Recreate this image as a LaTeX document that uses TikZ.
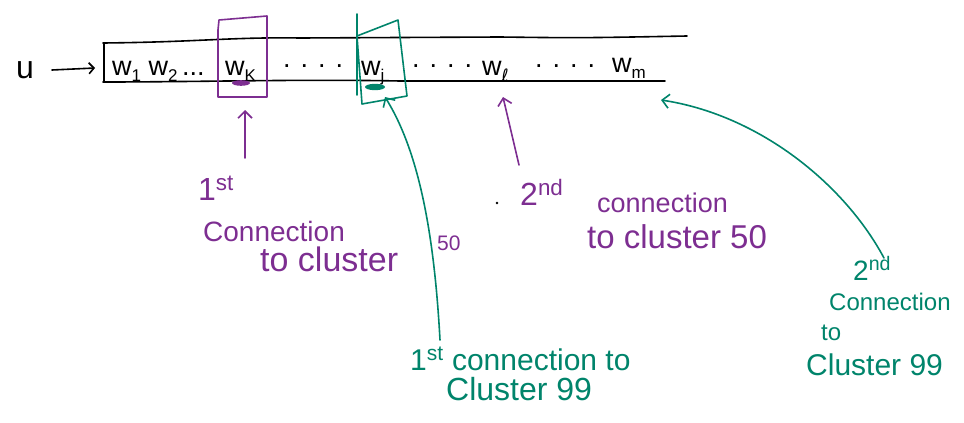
\documentclass[tikz,border=0pt]{standalone}
\usepackage{fontspec}
\setmainfont{Liberation Sans}
\newfontfamily\dejavu{DejaVu Sans}
\usetikzlibrary{arrows.meta}
\definecolor{hpurple}{HTML}{7D2E91}
\definecolor{hgreen}{HTML}{00846B}
\newcommand{\fs}[1]{\fontsize{#1}{#1}\selectfont}
\newcommand{\sub}[1]{\raisebox{-0.25em}{\fs{17}#1}}
\tikzset{
  ink/.style={line width=1.6pt, line cap=round, line join=round},
  pen/.style={ink, draw=black},
  ppen/.style={ink, draw=hpurple},
  gpen/.style={ink, draw=hgreen},
  barb/.style={-{Straight Barb[length=7pt,width=14pt,line width=1.6pt]}},
  word/.style={font=\fs{27}, inner sep=0pt, anchor=base west},
  ptxt/.style={text=hpurple, inner sep=0pt, anchor=base west},
  gtxt/.style={text=hgreen, inner sep=0pt, anchor=base west},
}
\begin{document}
\begin{tikzpicture}[x=1pt,y=-1pt]
\useasboundingbox (0,0) rectangle (964,423);
% strip
\coordinate (tl) at (103,43);
\coordinate (bl) at (103,82);
\coordinate (tr) at (687,36);
\coordinate (br) at (665,81);
\draw[pen] (tl) .. controls (200,42) and (230,37) .. (300,38) -- (500,37) .. controls (580,38) .. (tr);
\draw[pen] (bl) .. controls (200,82) and (300,79) .. (400,81) -- (br);
\draw[pen] (104,44) -- (104,81);
% input
\node[font=\fs{32}, inner sep=0pt, anchor=base west] (u) at (16,78) {u};
\coordinate (ua) at (52,70);
\coordinate (strip) at (95,68);
\draw[pen, -{Straight Barb[length=5pt,width=11pt,line width=1.6pt]}] (ua) -- (strip);
% words
\node[word] (w12) at (112,75) {w\sub{1} w\sub{2}\,...};
\node[word] (wk) at (225,75) {w\sub{K}};
\node[word] (d1) at (283,67) {. . . .};
\node[word] (wj) at (361,75) {w\sub{j}};
\node[word] (d2) at (412,67) {. . . .};
\node[word] (wl) at (482,75) {w\sub{\dejavu ℓ}};
\node[word] (d3) at (535,67) {. . . .};
\node[word] (wm) at (612,72) {w\sub{m}};
% purple box around w_k
\draw[ppen] (218,30) -- (218,97) -- (267,97) -- (267,16) -- (219,20) -- (218,30);
\fill[hpurple] (241,83) ellipse (9pt and 2.8pt);
% green box around w_j
\draw[gpen] (357,14) -- (357,95);
\draw[gpen] (357,36) -- (398,20) -- (407,96) -- (362,104) -- (357,36);
\fill[hgreen] (375,87) ellipse (10pt and 3.2pt);
% purple texts
\node[ptxt, font=\fs{32}] (p1) at (198,200) {1\textsuperscript{st}};
\node[ptxt, font=\fs{28}] (p2) at (203,241) {Connection};
\node[ptxt, font=\fs{34}] (p3) at (260,271) {to cluster};
\node[ptxt, font=\fs{21}] (p50) at (437,250) {50};
\node[ptxt, font=\fs{32}] (q1) at (520,205) {2\textsuperscript{nd}};
\node[ptxt, font=\fs{27}] (q2) at (597,212) {connection};
\node[ptxt, font=\fs{33}] (q3) at (587,248) {to cluster 50};
\fill (497,203) circle (1.3pt);
% purple arrows
\coordinate (pa1) at (245,158);
\coordinate (pa1h) at (245,110);
\draw[ppen, barb] (pa1) -- (pa1h);
\coordinate (pa2) at (519,165);
\coordinate (pa2h) at (503,97);
\draw[ppen, barb] (pa2) -- (pa2h);
% green texts
\node[gtxt, font=\fs{30}] (g1) at (410,370) {1\textsuperscript{st} connection to};
\node[gtxt, font=\fs{32}] (g2) at (446,400) {Cluster 99};
\node[gtxt, font=\fs{28}] (h1) at (853,280) {2\textsuperscript{nd}};
\node[gtxt, font=\fs{24}] (h2) at (829,310) {Connection};
\node[gtxt, font=\fs{24}] (h3) at (821,340) {to};
\node[gtxt, font=\fs{30}] (h4) at (806,375) {Cluster 99};
% green arrows
\coordinate (ga1) at (440,340);
\coordinate (ga1h) at (385,97);
\draw[gpen, barb] (ga1) .. controls (434,230) and (418,150) .. (ga1h);
\coordinate (ga2) at (884,258);
\coordinate (ga2h) at (661,100);
\draw[gpen, barb] (ga2) .. controls (845,185) and (760,115) .. (ga2h);
\end{tikzpicture}
\end{document}
